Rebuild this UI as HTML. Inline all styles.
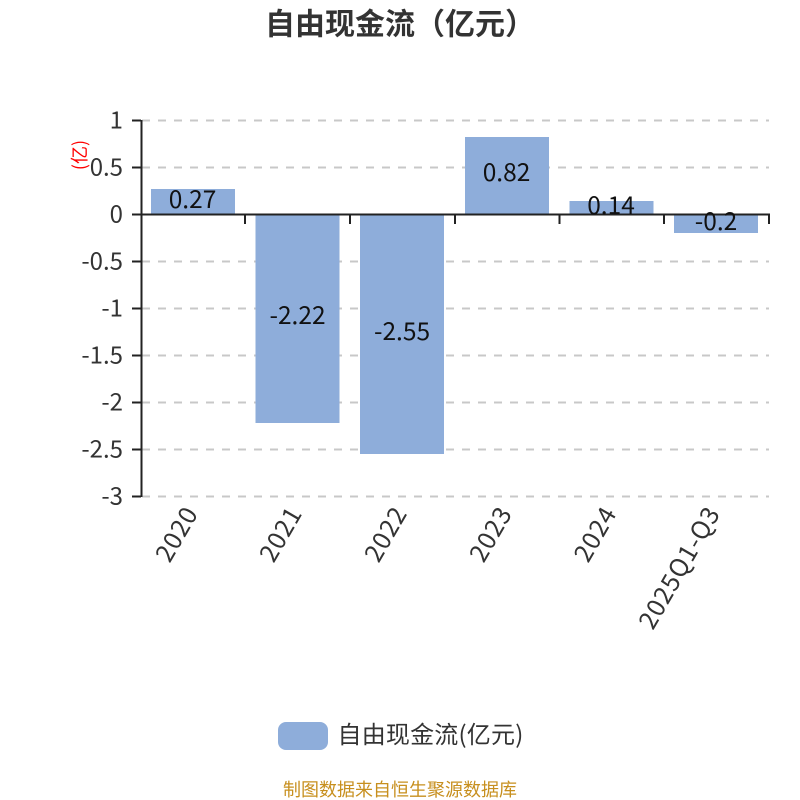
<!DOCTYPE html>
<html><head><meta charset="utf-8">
<style>
html,body{margin:0;padding:0;background:#fff;width:800px;height:800px;overflow:hidden}
svg{display:block}
text{font-family:"Noto Sans CJK SC","Liberation Sans",sans-serif}
</style></head><body>
<svg width="800" height="800" viewBox="0 0 800 800" xmlns="http://www.w3.org/2000/svg">
<text x="400" y="34.500" text-anchor="middle" font-size="30" font-weight="700" fill="#333">自由现金流（亿元）</text>
<g stroke="#c8c8c8" stroke-width="2" stroke-dasharray="8 8">
<line x1="142" x2="769" y1="120.5" y2="120.5"/>
<line x1="142" x2="769" y1="167.5" y2="167.5"/>
<line x1="142" x2="769" y1="261.5" y2="261.5"/>
<line x1="142" x2="769" y1="308.5" y2="308.5"/>
<line x1="142" x2="769" y1="355.5" y2="355.5"/>
<line x1="142" x2="769" y1="402.5" y2="402.5"/>
<line x1="142" x2="769" y1="449.5" y2="449.5"/>
<line x1="142" x2="769" y1="496.5" y2="496.5"/>
</g>
<g fill="#8eadda">
<rect x="151" y="189" width="84" height="25.5"/>
<rect x="255.500" y="214.500" width="84" height="208.500"/>
<rect x="360" y="214.500" width="84" height="239.500"/>
<rect x="465" y="137" width="84" height="77.500"/>
<rect x="569.500" y="201" width="84" height="13.500"/>
<rect x="674" y="214.500" width="84" height="18.500"/>
</g>
<g stroke="#222" stroke-width="2" fill="none">
<line x1="141.500" x2="141.500" y1="120" y2="497"/>
<line x1="141" x2="770" y1="214.500" y2="214.500"/>
<line x1="132" x2="141" y1="120.500" y2="120.500"/>
<line x1="132" x2="141" y1="167.500" y2="167.500"/>
<line x1="132" x2="141" y1="214.500" y2="214.500"/>
<line x1="132" x2="141" y1="261.500" y2="261.500"/>
<line x1="132" x2="141" y1="308.500" y2="308.500"/>
<line x1="132" x2="141" y1="355.500" y2="355.500"/>
<line x1="132" x2="141" y1="402.500" y2="402.500"/>
<line x1="132" x2="141" y1="449.500" y2="449.500"/>
<line x1="132" x2="141" y1="496.500" y2="496.500"/>
<line x1="245" x2="245" y1="214" y2="224"/>
<line x1="350" x2="350" y1="214" y2="224"/>
<line x1="455" x2="455" y1="214" y2="224"/>
<line x1="559.500" x2="559.500" y1="214" y2="224"/>
<line x1="664" x2="664" y1="214" y2="224"/>
<line x1="769" x2="769" y1="214" y2="224"/>
</g>
<g font-size="24" fill="#333" text-anchor="end">
<text x="123" y="128.500">1</text>
<text x="123" y="175.500">0.5</text>
<text x="123" y="222.500">0</text>
<text x="123" y="269.500">-0.5</text>
<text x="123" y="316.500">-1</text>
<text x="123" y="363.500">-1.5</text>
<text x="123" y="410.500">-2</text>
<text x="123" y="457.500">-2.5</text>
<text x="123" y="504.500">-3</text>
</g>
<text transform="translate(86,155) rotate(-90)" text-anchor="middle" font-size="18" fill="#f00">(亿)</text>
<g font-size="24.500" fill="#111" text-anchor="middle">
<text x="192.500" y="208">0.27</text>
<text x="297.500" y="324">-2.22</text>
<text x="402" y="340">-2.55</text>
<text x="506.500" y="181">0.82</text>
<text x="611" y="214">0.14</text>
<text x="716" y="230">-0.2</text>
</g>
<g font-size="25" fill="#333" text-anchor="end" letter-spacing="0.8">
<text transform="translate(199,513) rotate(-60)">2020</text>
<text transform="translate(303,513) rotate(-60)">2021</text>
<text transform="translate(408,513) rotate(-60)">2022</text>
<text transform="translate(513,513) rotate(-60)">2023</text>
<text transform="translate(617.500,513) rotate(-60)">2024</text>
<text transform="translate(721,513) rotate(-60)">2025Q1-Q3</text>
</g>
<rect x="278" y="722" width="50" height="28" rx="8" ry="8" fill="#8eadda"/>
<text x="337.500" y="743" font-size="24" fill="#333" letter-spacing="0.200">自由现金流(亿元)</text>
<text x="400" y="796" text-anchor="middle" font-size="18" fill="#c78f1e">制图数据来自恒生聚源数据库</text>
</svg>
</body></html>
